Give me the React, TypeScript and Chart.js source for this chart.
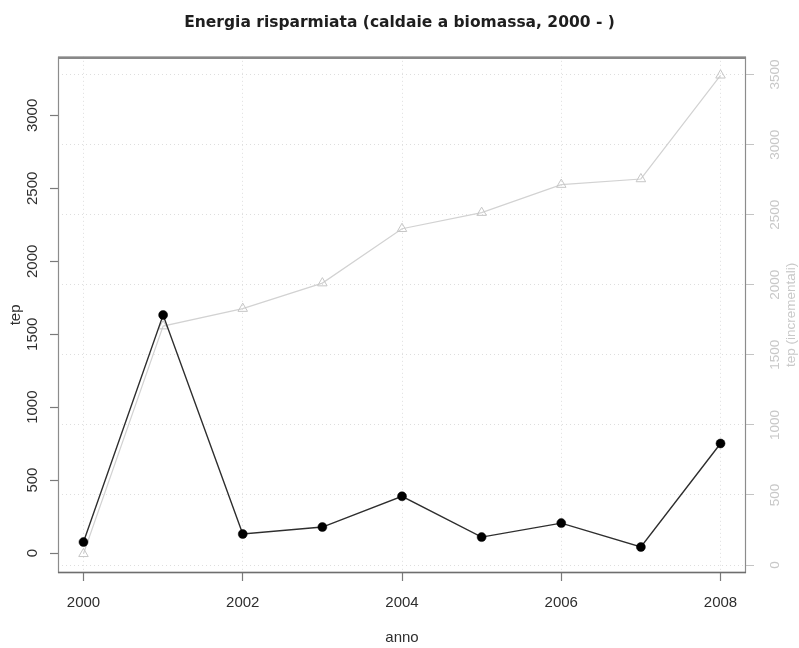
import React, { useEffect, useRef } from "react";
import { Chart, registerables } from "chart.js";

Chart.register(...registerables);

// ---- data ----
const years = [2000, 2001, 2002, 2003, 2004, 2005, 2006, 2007, 2008];
const savedTep = [75, 1632, 130, 178, 389, 109, 205, 41, 751];
const cumulativeTep = [80, 1705, 1830, 2012, 2400, 2515, 2715, 2755, 3495];

const xTicks = [2000, 2002, 2004, 2006, 2008];
const leftTicks = [0, 500, 1000, 1500, 2000, 2500, 3000];
const rightTicks = [0, 500, 1000, 1500, 2000, 2500, 3000, 3500];

const titleText = "Energia risparmiata (caldaie a biomassa, 2000 - )";
const xTitle = "anno";
const leftTitle = "tep";
const rightTitle = "tep (incrementali)";

const FONT = "'Liberation Sans', Arial, sans-serif";

const boxPlugin = {
  id: "rbox",
  beforeDatasetsDraw(chart: any) {
    const { ctx, chartArea } = chart;
    const { left, top, right, bottom } = chartArea;
    ctx.save();
    ctx.strokeStyle = "#8c8c8c";
    ctx.lineWidth = 1.2;
    ctx.strokeRect(left + 0.5, top + 0.5, right - left - 1, bottom - top - 1);
    ctx.lineWidth = 2.4;
    ctx.strokeStyle = "#888888";
    ctx.beginPath();
    ctx.moveTo(left, top + 1);
    ctx.lineTo(right, top + 1);
    ctx.stroke();
    ctx.strokeStyle = "#6e6e6e";
    ctx.lineWidth = 1.6;
    ctx.beginPath();
    ctx.moveTo(left, bottom - 0.5);
    ctx.lineTo(right, bottom - 0.5);
    ctx.stroke();
    ctx.restore();
  },
  afterDraw(chart: any) {
    const { ctx, chartArea } = chart;
    ctx.save();
    ctx.translate(791, (chartArea.top + chartArea.bottom) / 2);
    ctx.rotate(-Math.PI / 2);
    ctx.font = `13.5px ${FONT}`;
    ctx.fillStyle = "#c8c8c8";
    ctx.textAlign = "center";
    ctx.textBaseline = "middle";
    ctx.fillText(rightTitle, 0, 0);
    ctx.restore();
  },
};

export default function App() {
  const ref = useRef<HTMLCanvasElement | null>(null);

  useEffect(() => {
    document.body.style.margin = "0";
    const canvas = ref.current;
    if (!canvas) return;
    const chart = new Chart(canvas, {
      type: "line",
      data: {
        datasets: [
          {
            label: "tep",
            data: years.map((y, i) => ({ x: y, y: savedTep[i] })),
            yAxisID: "y",
            borderColor: "#2e2e2e",
            borderWidth: 1.4,
            pointStyle: "circle",
            pointRadius: 4.5,
            pointBackgroundColor: "#000000",
            pointBorderColor: "#000000",
            pointBorderWidth: 0.5,
            tension: 0,
          },
          {
            label: "tep (incrementali)",
            data: years.map((y, i) => ({ x: y, y: cumulativeTep[i] })),
            yAxisID: "y1",
            borderColor: "#d2d2d2",
            borderWidth: 1.2,
            pointStyle: "triangle",
            pointRadius: 5.5,
            pointBackgroundColor: "rgba(255,255,255,0)",
            pointBorderColor: "#c6c6c6",
            pointBorderWidth: 1,
            tension: 0,
          },
        ],
      },
      options: {
        animation: false,
        responsive: false,
        layout: { padding: 0 },
        plugins: {
          legend: { display: false },
          tooltip: { enabled: false },
          title: {
            display: true,
            text: titleText,
            color: "#1e1e1e",
            font: { family: "'DejaVu Sans', sans-serif", size: 15.5, weight: "bold" },
            padding: { top: 13.6, bottom: 24.6 },
          },
        },
        scales: {
          x: {
            type: "linear",
            position: "bottom",
            min: 1999.68,
            max: 2008.32,
            afterBuildTicks: (s: any) => {
              s.ticks = xTicks.map((v) => ({ value: v }));
            },
            afterFit: (s: any) => {
              s.height = 75;
            },
            ticks: {
              autoSkip: false,
              maxRotation: 0,
              minRotation: 0,
              padding: 13,
              color: "#2e2e2e",
              font: { family: FONT, size: 15 },
              callback: (v: any) => String(v),
            },
            grid: {
              color: "#dedede",
              lineWidth: 1,
              drawTicks: true,
              tickLength: 8,
              tickColor: "#7a7a7a",
              tickWidth: 1.2,
              tickBorderDash: [],
            },
            border: { display: false, dash: [1, 3] },
            title: {
              display: true,
              text: xTitle,
              color: "#2e2e2e",
              font: { family: FONT, size: 15 },
              padding: { top: 0, bottom: 1.6 },
            },
          },
          y: {
            type: "linear",
            position: "left",
            min: -137,
            max: 3402,
            afterBuildTicks: (s: any) => {
              s.ticks = leftTicks.map((v) => ({ value: v }));
            },
            afterFit: (s: any) => {
              s.width = 58;
            },
            ticks: {
              autoSkip: false,
              minRotation: 90,
              maxRotation: 90,
              crossAlign: "center",
              padding: 0.3,
              color: "#2e2e2e",
              font: { family: FONT, size: 15 },
              callback: (v: any) => String(v),
            },
            grid: {
              drawOnChartArea: false,
              drawTicks: true,
              tickLength: 8,
              tickColor: "#7a7a7a",
              tickWidth: 1.2,
              tickBorderDash: [],
            },
            border: { display: false },
            title: {
              display: true,
              text: leftTitle,
              color: "#2e2e2e",
              font: { family: FONT, size: 15 },
              padding: { top: 6.6, bottom: 0 },
            },
          },
          y1: {
            type: "linear",
            position: "right",
            min: -57,
            max: 3627,
            afterBuildTicks: (s: any) => {
              s.ticks = rightTicks.map((v) => ({ value: v }));
            },
            afterFit: (s: any) => {
              s.width = 53;
            },
            ticks: {
              autoSkip: false,
              minRotation: 90,
              maxRotation: 90,
              crossAlign: "center",
              padding: 6,
              color: "#c8c8c8",
              font: { family: FONT, size: 13.5 },
              callback: (v: any) => String(v),
            },
            grid: {
              drawOnChartArea: true,
              color: "#dedede",
              lineWidth: 1,
              drawTicks: true,
              tickLength: 8,
              tickColor: "#c4c4c4",
              tickWidth: 1,
              tickBorderDash: [],
            },
            border: { display: false, dash: [1, 3] },
          },
        },
      },
      plugins: [boxPlugin],
    });
    return () => chart.destroy();
  }, []);

  return (
    <div style={{ position: "absolute", left: 0, top: 0, width: 799, height: 648 }}>
      <canvas ref={ref} width={799} height={648} style={{ width: 799, height: 648 }} />
    </div>
  );
}
